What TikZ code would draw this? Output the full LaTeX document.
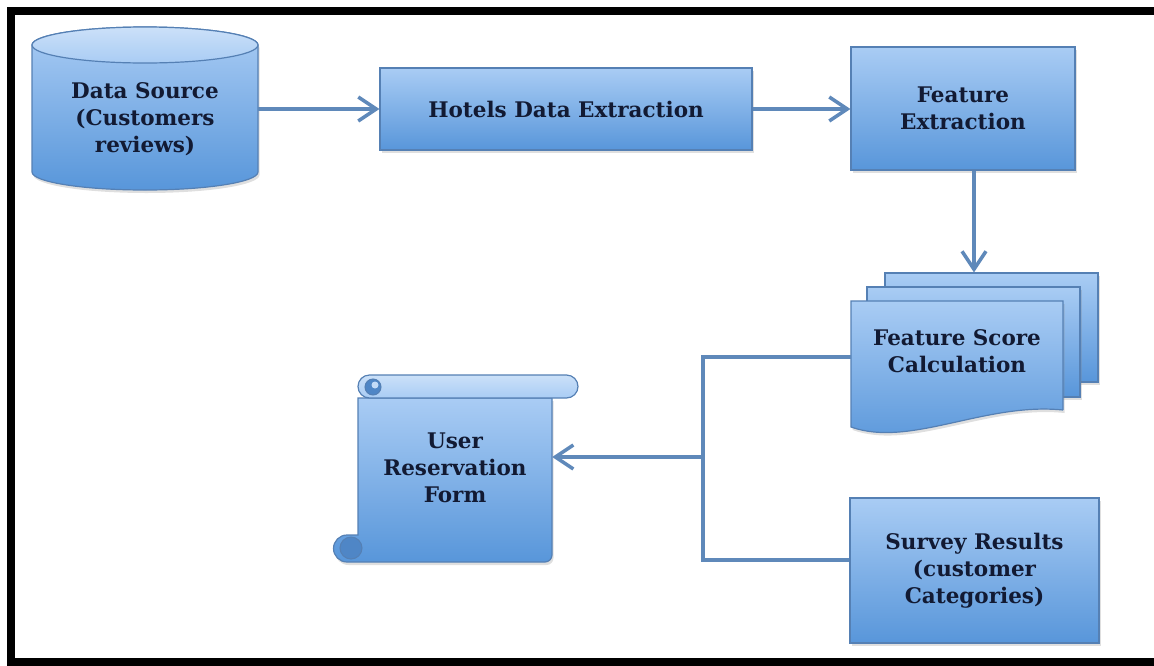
\documentclass[tikz,border=0pt]{standalone}
\usepackage{fontspec}
\setmainfont{DejaVu Serif}
\usetikzlibrary{arrows.meta,shadows}
\definecolor{skytop}{HTML}{A9CCF4}
\definecolor{skybot}{HTML}{5896DA}
\definecolor{edge}{HTML}{5580B4}
\definecolor{flow}{HTML}{5F89BA}
\definecolor{navy}{HTML}{121A33}
\definecolor{curl}{HTML}{4F86C6}

\begin{document}
\begin{tikzpicture}[x=1pt,y=1pt,
  font=\fontsize{21.5}{27}\selectfont\bfseries,
  fillbox/.style={top color=skytop, bottom color=skybot, draw=edge, line width=1.2pt,
                  drop shadow={opacity=0.25, shadow xshift=1.5pt, shadow yshift=-3pt}},
  lightbox/.style={top color=skytop!60!white, bottom color=skytop, draw=edge, line width=1.2pt},
  box/.style={fillbox, rectangle, align=center, text=navy, inner sep=0pt},
  txt/.style={align=center, text=navy, inner sep=0pt},
  link/.style={draw=flow, line width=3.5pt},
  arr/.style={link, -{Straight Barb[length=18pt,width=24pt]}}]
  \useasboundingbox (0,0) rectangle (1154,-665);
  % frame
  \draw[line width=8pt] (1154,-11) -- (11,-11) -- (11,-662) -- (1154,-662);

  % data source cylinder
  \path[fillbox] (32,-45) -- (32,-172) arc[start angle=180,end angle=360,x radius=113,y radius=18]
    -- (258,-45) arc[start angle=0,end angle=180,x radius=113,y radius=18] -- cycle;
  \path[lightbox] (145,-45) ellipse[x radius=113,y radius=18];
  \node[txt, minimum width=226pt] (src) at (145,-119) {Data Source\\(Customers\\reviews)};

  \node[box, minimum width=372pt, minimum height=82pt]  (hde) at (566,-109)   {Hotels Data Extraction};
  \node[box, minimum width=224pt, minimum height=123pt] (fe)  at (963,-108.5) {Feature\\Extraction};

  % stacked documents
  \node[box, minimum width=213pt, minimum height=109pt] (fscb) at (991.5,-327.5) {};
  \node[box, minimum width=213pt, minimum height=110pt] (fscm) at (973.5,-342)   {};
  \path[fillbox] (1063,-410) -- (1063,-301) -- (851,-301) -- (851,-427)
    .. controls (910,-448) and (985,-402) .. (1063,-410);
  \node[txt, minimum width=212pt] (fsc) at (957,-351) {Feature Score\\Calculation};

  \node[box, minimum width=249pt, minimum height=145pt] (svy) at (974.5,-570.5) {Survey Results\\(customer\\Categories)};

  % scroll
  \path[fillbox] (358,-398) -- (358,-535) -- (347,-535) arc[start angle=90,end angle=270,radius=13.5]
    -- (545,-562) arc[start angle=270,end angle=360,radius=7] -- (552,-398) -- cycle;
  \path[lightbox] (369.5,-375) -- (566.5,-375) arc[start angle=90,end angle=-90,radius=11.5]
    -- (369.5,-398) arc[start angle=270,end angle=90,radius=11.5] -- cycle;
  \path[fill=curl, draw=edge, line width=1pt] (373,-387) circle[radius=8];
  \path[fill=skytop!70!white] (375,-385) circle[radius=3.5];
  \path[fill=curl, draw=edge, line width=1pt] (351,-548) circle[radius=11];
  \node[txt, minimum width=194pt] (urf) at (455,-468) {User\\Reservation\\Form};

  \coordinate (jtop) at (703,-357);
  \coordinate (jmid) at (703,-457);
  \coordinate (jbot) at (703,-560);

  \draw[arr] (src.east |- hde.west) -- (hde.west);
  \draw[arr] (hde.east) -- (hde.east -| fe.west);
  \draw[arr] ([xshift=11pt]fe.south) -- ([xshift=11pt]fe.south |- fscb.north);
  \draw[link] (fsc.west |- jtop) -- (jtop) -- (jbot) -- (svy.west |- jbot);
  \draw[arr] (jmid) -- (urf.east |- jmid);
\end{tikzpicture}
\end{document}
